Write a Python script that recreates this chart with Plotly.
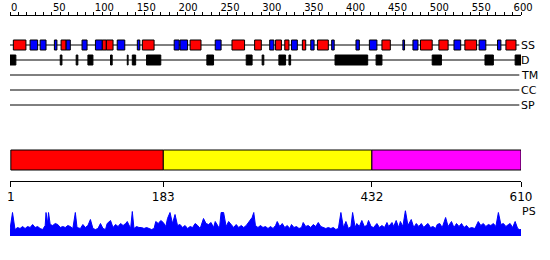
import plotly.graph_objects as go

# ---------------- data ----------------
seq_len = 610

helix_start = [4, 61, 110, 115, 158, 215, 265, 292, 317, 328, 349, 367, 444, 490, 512, 543, 592]
helix_end   = [19, 67, 115, 123, 172, 228, 280, 300, 324, 333, 353, 380, 454, 504, 523, 557, 604]

strand_start = [24, 36, 53, 67, 86, 102, 128, 152, 196, 203, 245, 310, 336, 359, 384, 413, 429, 469, 481, 530, 560, 582]
strand_end   = [33, 43, 56, 72, 92, 110, 137, 155, 202, 212, 252, 315, 343, 363, 387, 417, 438, 471, 487, 538, 568, 586]

disorder_start = [0, 60, 79, 93, 120, 140, 146, 163, 235, 282, 301, 321, 333, 388, 437, 504, 567, 603]
disorder_end   = [7, 62, 81, 99, 122, 141, 150, 180, 243, 289, 303, 329, 335, 427, 444, 515, 577, 610]

domain_start = [1, 183, 432]
domain_end = [183, 432, 610]
domain_colors = ["#FF0000", "#FFFF00", "#FF00FF"]
domain_ticks = [1, 183, 432, 610]

track_labels = ["SS", "D", "TM", "CC", "SP"]

ps_pos = [0, 3, 6, 9, 12, 15, 18, 21, 24, 27, 30, 33, 36, 39, 42, 43, 45, 46, 48, 51, 54, 57, 60,
          63, 66, 69, 72, 75, 78, 80, 84, 87, 90, 93, 96, 99, 102, 105, 108, 111, 114, 116, 120,
          123, 126, 129, 132, 135, 138, 140, 144, 146, 148, 151, 154, 157, 160, 163, 166, 169,
          172, 174, 177, 180, 183, 186, 188, 191, 194, 197, 200, 203, 206, 209, 212, 215, 218,
          221, 224, 227, 231, 234, 237, 240, 243, 245, 250, 252, 255, 258, 261, 264, 267, 270,
          273, 276, 279, 282, 285, 289, 291, 293, 296, 299, 302, 305, 308, 311, 314, 317, 319,
          322, 325, 328, 331, 334, 336, 339, 342, 345, 348, 350, 353, 356, 359, 362, 365, 368,
          371, 374, 377, 380, 383, 386, 389, 392, 395, 398, 401, 404, 407, 409, 412, 414, 417,
          420, 423, 426, 428, 431, 434, 438, 441, 444, 447, 450, 452, 456, 458, 461, 464, 466,
          469, 472, 475, 479, 482, 485, 488, 491, 494, 496, 499, 502, 505, 508, 510, 513, 516,
          520, 523, 527, 530, 533, 536, 539, 542, 545, 548, 551, 555, 559, 562, 565, 568, 571,
          574, 577, 580, 583, 586, 589, 592, 595, 597, 600, 603, 606, 608, 610]
ps_val = [6, 23, 6, 8, 7, 9, 7, 9, 8, 11, 8, 9, 7, 6, 10, 23, 12, 23, 11, 10, 12, 11, 8,
          9, 8, 10, 9, 7, 23, 8, 7, 11, 8, 10, 16, 7, 6, 7, 12, 7, 6, 12, 15,
          8, 11, 9, 12, 10, 12, 14, 7, 24, 7, 9, 8, 8, 7, 8, 7, 6,
          7, 14, 12, 15, 13, 9, 17, 23, 12, 21, 10, 11, 8, 10, 7, 9, 8,
          12, 10, 7, 17, 12, 11, 13, 8, 14, 7, 23, 23, 9, 14, 11, 8, 11,
          8, 10, 8, 10, 13, 18, 23, 10, 8, 10, 8, 9, 7, 9, 7, 10, 14,
          9, 12, 8, 10, 7, 11, 8, 9, 7, 8, 13, 9, 10, 8, 11, 9, 13,
          9, 8, 7, 8, 7, 8, 6, 7, 23, 8, 14, 7, 9, 23, 8, 12, 9,
          15, 9, 10, 15, 9, 8, 12, 8, 10, 8, 13, 9, 13, 9, 15, 8, 14,
          9, 25, 10, 16, 8, 12, 9, 12, 8, 10, 12, 8, 9, 7, 11, 12, 8,
          18, 9, 14, 8, 12, 9, 12, 8, 10, 7, 8, 7, 14, 10, 12, 9, 11,
          10, 12, 9, 23, 11, 12, 9, 11, 12, 8, 14, 7, 6, 6]

# ---------------- layout constants (pixel rows) ----------------
W, H = 550, 260
row_y = {"SS": 45, "D": 60, "TM": 75, "CC": 90, "SP": 105}
font = "DejaVu Sans"

fig = go.Figure()
shapes = []

# track baselines
for lab in track_labels:
    shapes.append(dict(type="line", xref="x", yref="y", x0=0, x1=seq_len - 2,
                       y0=row_y[lab], y1=row_y[lab], line=dict(color="black", width=1), layer="below"))

# secondary structure
for s, e in zip(helix_start, helix_end):
    shapes.append(dict(type="rect", xref="x", yref="y", x0=s, x1=e, y0=40, y1=50,
                       fillcolor="#FF0000", line=dict(color="black", width=1)))
for s, e in zip(strand_start, strand_end):
    shapes.append(dict(type="rect", xref="x", yref="y", x0=s, x1=e, y0=40, y1=50,
                       fillcolor="#0000FF", line=dict(color="black", width=1)))
# disorder
for s, e in zip(disorder_start, disorder_end):
    shapes.append(dict(type="rect", xref="x", yref="y", x0=s, x1=e, y0=55, y1=65,
                       fillcolor="black", line=dict(color="black", width=1)))
# domains
for s, e, c in zip(domain_start, domain_end, domain_colors):
    shapes.append(dict(type="rect", xref="x", yref="y", x0=s, x1=e, y0=150, y1=170,
                       fillcolor=c, line=dict(color="black", width=1)))

# PS baseline stub
shapes.append(dict(type="line", xref="x", yref="y", x0=0, x1=seq_len + 5, y0=235.5, y1=235.5,
                   line=dict(color="#0000FF", width=1)))

# PS profile
fig.add_trace(go.Scatter(x=ps_pos, y=ps_val, xaxis="x", yaxis="y2", mode="lines",
                         line=dict(color="#0000FF", width=1), fill="tozeroy",
                         fillcolor="#0000FF", hoverinfo="skip"))
# dummy traces for extra axes
fig.add_trace(go.Scatter(x=[0, seq_len], y=[0, 0], xaxis="x2", yaxis="y", mode="none", hoverinfo="skip"))
fig.add_trace(go.Scatter(x=[0, seq_len], y=[0, 0], xaxis="x3", yaxis="y", mode="none", hoverinfo="skip"))

annotations = []
for lab in track_labels:
    annotations.append(dict(text=lab, xref="x", yref="y", x=seq_len, y=row_y[lab],
                            xanchor="left", yanchor="middle", xshift=-2, showarrow=False,
                            font=dict(family=font, size=11, color="black")))
annotations.append(dict(text="PS", xref="x", yref="y", x=seq_len, y=211,
                        xanchor="left", yanchor="middle", xshift=-1, showarrow=False,
                        font=dict(family=font, size=11, color="black")))

ps_base = (H - 235.5) / H
fig.update_layout(
    width=W, height=H,
    margin=dict(l=10, r=29, t=0, b=0),
    paper_bgcolor="white", plot_bgcolor="rgba(0,0,0,0)",
    showlegend=False,
    shapes=shapes, annotations=annotations,
    xaxis=dict(range=[0, seq_len], visible=False, fixedrange=True),
    yaxis=dict(range=[H, 0], domain=[0, 1], visible=False, fixedrange=True),
    yaxis2=dict(range=[0, 25], domain=[ps_base, ps_base + 25 / H], visible=False),
    xaxis2=dict(range=[0, seq_len], overlaying="x", anchor="free", position=1 - 14.5 / H,
                side="top", showline=True, linecolor="black", linewidth=1,
                ticks="outside", ticklen=3, tickcolor="black", tickwidth=1,
                tick0=0, dtick=50, ticklabelposition="outside right",
                minor=dict(dtick=10, ticks="outside", ticklen=3, tickcolor="black"),
                showgrid=False, zeroline=False,
                tickfont=dict(family=font, size=10, color="black")),
    xaxis3=dict(range=[0, seq_len], overlaying="x", anchor="free", position=1 - 180.5 / H,
                side="bottom", showline=True, linecolor="black", linewidth=1,
                ticks="outside", ticklen=5, tickcolor="black", tickwidth=1,
                tickvals=domain_ticks, ticktext=[str(t) for t in domain_ticks],
                showgrid=False, zeroline=False,
                tickfont=dict(family=font, size=12, color="black")),
)

fig.write_html("out.html")
